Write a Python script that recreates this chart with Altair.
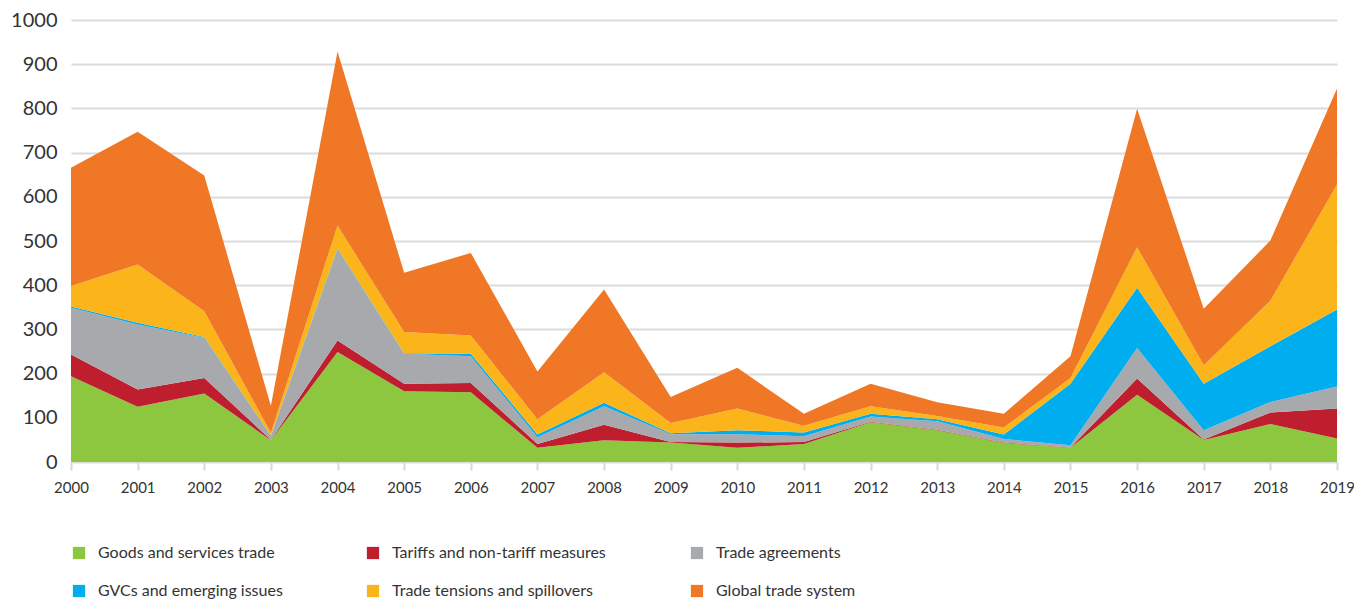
import altair as alt
import pandas as pd

years = list(range(2000, 2020))

series_names = [
    "Goods and services trade",
    "Tariffs and non-tariff measures",
    "Trade agreements",
    "GVCs and emerging issues",
    "Trade tensions and spillovers",
    "Global trade system",
]
series_colors = ["#8DC63F", "#BE1E2D", "#A7A9AC", "#00AEEF", "#FBB41A", "#F07725"]

goods =    [194, 125, 155, 49, 249, 160, 158, 32, 49, 44, 32, 41, 90, 72, 43, 32, 152, 50, 86, 53]
tariffs =  [49, 39, 35, 1, 26, 17, 21, 9, 35, 1, 12, 4, 1, 1, 1, 1, 37, 1, 26, 68]
agreements = [106, 147, 91, 9, 206, 68, 60, 15, 42, 18, 19, 13, 12, 19, 8, 5, 69, 21, 24, 50]
gvcs =     [3, 4, 2, 1, 2, 1, 6, 6, 8, 2, 9, 9, 6, 5, 10, 139, 136, 105, 126, 174]
tensions = [46, 132, 58, 6, 52, 48, 41, 35, 69, 23, 49, 15, 17, 7, 16, 13, 92, 42, 103, 283]
globalsys = [268, 300, 307, 61, 394, 134, 187, 108, 187, 59, 92, 27, 51, 31, 31, 49, 313, 128, 136, 217]

all_series = [goods, tariffs, agreements, gvcs, tensions, globalsys]

rows = []
for i, (name, vals) in enumerate(zip(series_names, all_series)):
    for y, v in zip(years, vals):
        rows.append({"year": y, "topic": name, "value": v, "ord": i})
df = pd.DataFrame(rows)

FONT = "Lato"

chart = alt.Chart(df).mark_area(interpolate="linear", opacity=1, strokeWidth=0).encode(
    x=alt.X("year:Q",
            scale=alt.Scale(domain=[2000, 2019], nice=False, zero=False),
            axis=alt.Axis(values=years, format="d", title=None, grid=False,
                          domain=False, ticks=True, tickColor="#d9d9d9", tickWidth=2,
                          tickSize=8, labelPadding=10, labelFontSize=15,
                          labelFlush=False, labelOverlap=False,
                          labelColor="#333333", labelFont=FONT)),
    y=alt.Y("value:Q", stack="zero",
            scale=alt.Scale(domain=[0, 1000], nice=False),
            axis=alt.Axis(values=list(range(0, 1001, 100)), format="d", title=None,
                          domain=False, ticks=False, labelPadding=14, labelFontSize=20,
                          labelColor="#333333", labelFont=FONT,
                          gridColor="#dcdcdc", gridWidth=2)),
    color=alt.Color("topic:N",
                    scale=alt.Scale(domain=series_names, range=series_colors),
                    legend=alt.Legend(title=None, orient="none", legendX=0, legendY=525,
                                      columns=3, columnPadding=82, rowPadding=22,
                                      symbolType="square", symbolSize=150,
                                      symbolStrokeWidth=0, symbolOpacity=1,
                                      labelFontSize=16, labelColor="#333333",
                                      labelFont=FONT, labelOffset=11,
                                      direction="horizontal", labelLimit=400)),
    order=alt.Order("ord:Q", sort="ascending"),
).properties(
    width=1266,
    height=442,
    autosize=alt.AutoSizeParams(type="none"),
    padding={"left": 63, "top": 12, "right": 17, "bottom": 138},
).configure(background="white").configure_view(stroke=None)

chart.save("out.html", embed_options={"renderer": "svg", "actions": False})
